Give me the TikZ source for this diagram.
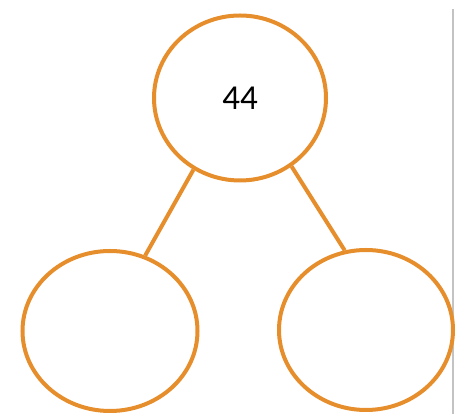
\documentclass[tikz,border=0pt]{standalone}
\usepackage{fontspec}
\setmainfont{Carlito}
\usetikzlibrary{shapes.geometric}
\definecolor{bondorange}{RGB}{230,142,44}
\definecolor{edgegray}{RGB}{195,195,195}
\begin{document}
\begin{tikzpicture}[x=1pt,y=1pt,
  bond/.style={ellipse,draw=bondorange,line width=4pt,inner sep=0pt},
  link/.style={draw=bondorange,line width=4pt}]
\useasboundingbox (0,0) rectangle (458,414);
\draw[edgegray,line width=1.8pt] (452.7,0) -- (452.7,405) coordinate (gtop);
\node[bond,minimum width=172pt,minimum height=165pt,font=\fontsize{35}{40}\selectfont] (top) at (240,316) {44};
\node[bond,minimum width=175pt,minimum height=160pt] (left) at (110,83) {};
\node[bond,minimum width=174pt,minimum height=160pt] (right) at (366,84) {};
\draw[link] (top.237) -- (left.65);
\draw[link] (top.307) -- (right.105);
\end{tikzpicture}
\end{document}
